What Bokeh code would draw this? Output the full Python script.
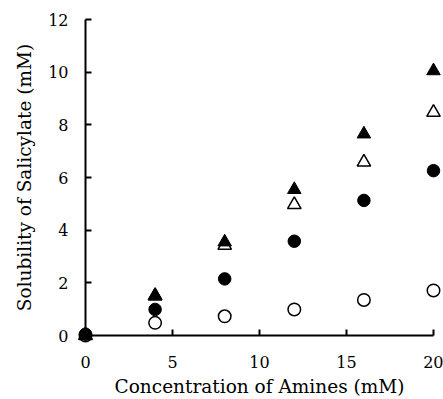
from bokeh.plotting import figure
from bokeh.models import Range1d, FixedTicker
from bokeh.embed import file_html
from bokeh.resources import INLINE

# Data
amines = [0, 4, 8, 12, 16, 20]
filled_triangle = [0.0, 1.52, 3.55, 5.54, 7.65, 10.05]
open_triangle = [0.0, 1.50, 3.42, 4.97, 6.58, 8.47]
filled_circle = [0.05, 0.99, 2.15, 3.58, 5.13, 6.26]
open_circle = [0.0, 0.48, 0.73, 0.99, 1.35, 1.71]

x_ticks = [0, 5, 10, 15, 20]
y_ticks = [0, 2, 4, 6, 8, 10, 12]

FONT = "DejaVu Serif"

p = figure(width=443, height=399, output_backend="svg", toolbar_location=None,
           x_range=Range1d(0, 20), y_range=Range1d(0, 12),
           min_border_left=85, min_border_right=10, min_border_top=19,
           min_border_bottom=64)
p.outline_line_color = None
p.grid.visible = False
p.background_fill_color = "white"

for ax, ticks in ((p.xaxis, x_ticks), (p.yaxis, y_ticks)):
    ax.ticker = FixedTicker(ticks=ticks)
    ax.axis_line_width = 2
    ax.axis_line_color = "black"
    ax.major_tick_line_width = 2
    ax.major_tick_line_color = "black"
    ax.major_tick_in = 6
    ax.major_tick_out = 0
    ax.minor_tick_line_color = None
    ax.major_label_text_font = FONT
    ax.major_label_text_font_size = "16px"
    ax.major_label_text_color = "black"
    ax.axis_label_text_font = FONT
    ax.axis_label_text_font_size = "18.5px"
    ax.axis_label_text_font_style = "normal"
    ax.axis_label_text_color = "black"

p.xaxis.major_label_standoff = 20
p.yaxis.major_label_standoff = 17
p.xaxis.axis_label = "Concentration of Amines (mM)"
p.yaxis.axis_label = "Solubility of Salicylate (mM)"
p.xaxis.axis_label_standoff = 5
p.yaxis.axis_label_standoff = 10

# markers drawn at the overlay level so that those on the axes are not clipped
p.scatter(amines, open_circle, marker="circle", size=12.5, fill_color="white",
          line_color="black", line_width=1.5, level="overlay")
p.scatter(amines, open_triangle, marker="triangle", size=13.5, fill_color="white",
          line_color="black", line_width=1.5, level="overlay")
p.scatter(amines, filled_circle, marker="circle", size=12.5, fill_color="black",
          line_color="black", line_width=1, level="overlay")
p.scatter(amines, filled_triangle, marker="triangle", size=13.5, fill_color="black",
          line_color="black", line_width=1, level="overlay")

open("out.html", "w").write(file_html(p, INLINE))
